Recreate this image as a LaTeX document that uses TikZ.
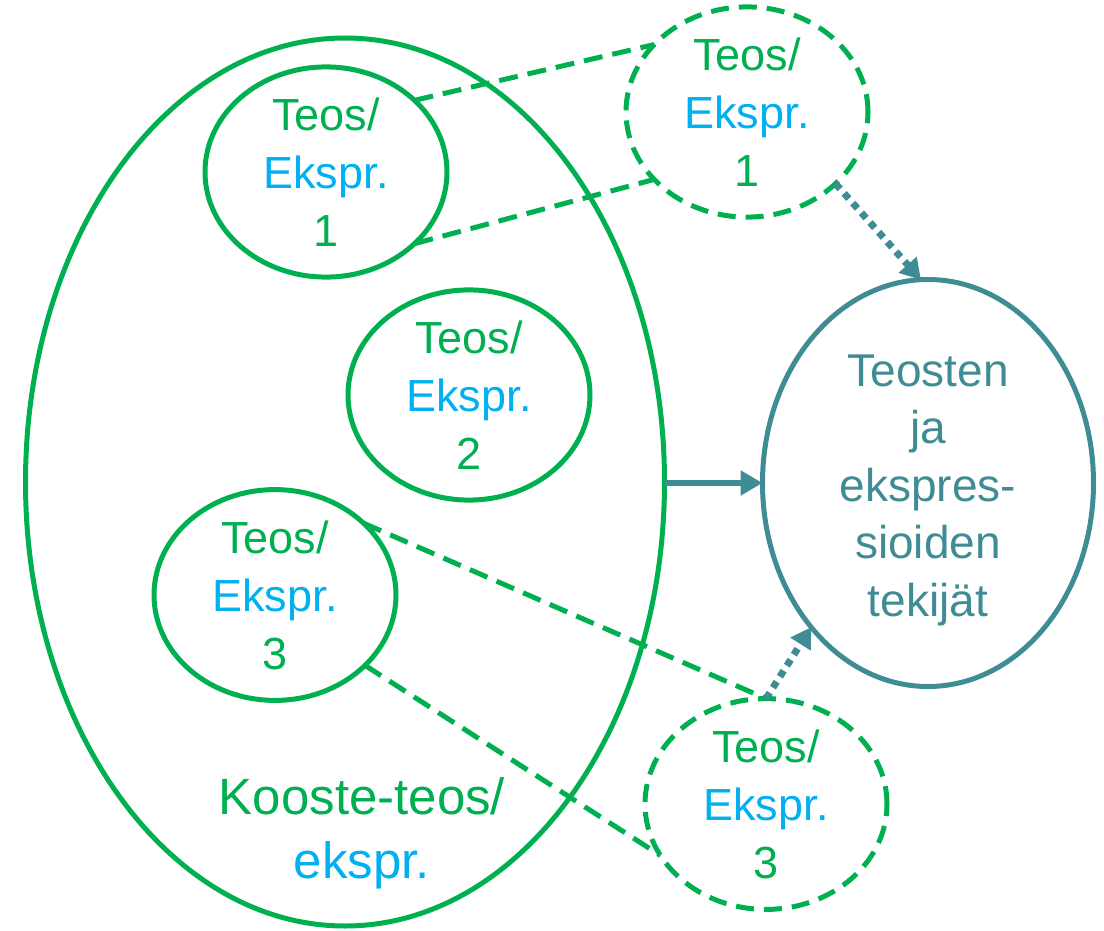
\documentclass[tikz,border=0pt]{standalone}
\usepackage{fontspec}
\setmainfont{Liberation Sans}
\usetikzlibrary{shapes.geometric,arrows.meta}
\definecolor{kgreen}{HTML}{00B050}
\definecolor{kblue}{HTML}{00B0F0}
\definecolor{kteal}{HTML}{408C94}
\begin{document}
\begin{tikzpicture}[x=1pt,y=-1pt,
  every node/.style={inner sep=0pt, outer sep=0pt, align=center},
  small/.style={ellipse, draw=kgreen, line width=5pt, minimum width=242pt, minimum height=196pt,
    font=\fontsize{45}{58}\selectfont, text=kgreen},
  smalldash/.style={small, dash pattern=on 18pt off 10pt},
  bigell/.style={ellipse, draw=kgreen, line width=5pt, minimum width=639pt, minimum height=888pt},
  authors/.style={ellipse, draw=kteal, line width=5pt, minimum width=331pt, minimum height=407pt},
  authorstext/.style={font=\fontsize{46}{57.5}\selectfont, text=kteal},
  dashln/.style={draw=kgreen, line width=5pt, dash pattern=on 19pt off 10pt},
  arr/.style={draw=kteal, line width=6.5pt, -{Triangle[length=22pt,width=24pt]}},
  dotarr/.style={draw=kteal, line width=7pt, dash pattern=on 7pt off 6pt, -{Triangle[length=20pt,width=23pt]}}
]
\useasboundingbox (0,0) rectangle (1104,931);

\node[bigell] (big) at (345,482) {};
\node[font=\fontsize{51}{64}\selectfont, text=kgreen] (kooste) at (362,833)
  {Kooste-teos/\\\textcolor{kblue}{ekspr.}};

\node[small] (e1) at (326,172) {Teos/\\\textcolor{kblue}{Ekspr.}\\1};
\node[small] (e2) at (469,395) {Teos/\\\textcolor{kblue}{Ekspr.}\\2};
\node[small] (e3) at (275,595) {Teos/\\\textcolor{kblue}{Ekspr.}\\3};

\node[smalldash] (d1) at (747,112) {Teos/\\\textcolor{kblue}{Ekspr.}\\1};
\node[smalldash] (d3) at (766,804) {Teos/\\\textcolor{kblue}{Ekspr.}\\3};

\node[authors] (R) at (928,483) {};
\node[authorstext] (Rt) at (928,490) {Teosten\\ja\\ekspres-\\sioiden\\tekijät};

\draw[dashln] (e1.39) -- (d1.144);
\draw[dashln] (e1.-39) -- (d1.216);
\draw[dashln] (e3.39) -- (d3.90);
\draw[dashln] (e3.-38) -- (d3.206);

\draw[arr] (R.west -| big.east) -- (R.west);
\draw[dotarr] (d1.-39) -- (R.92);
\draw[dotarr] (d3.90) -- (R.231);
\end{tikzpicture}
\end{document}
